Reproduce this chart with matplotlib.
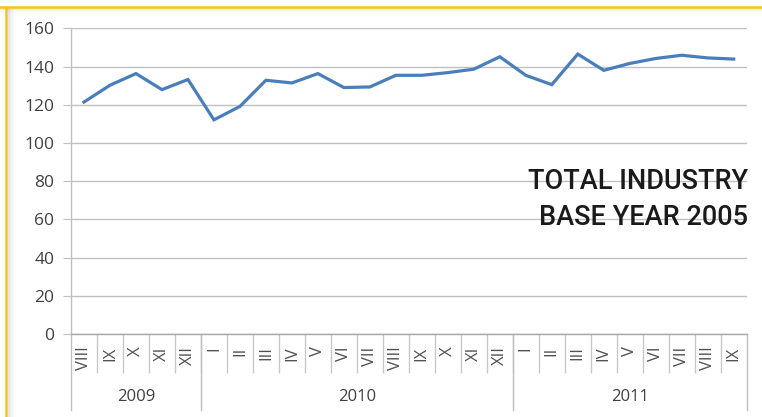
import matplotlib
matplotlib.use("Agg")
import matplotlib.pyplot as plt
from matplotlib.lines import Line2D
from matplotlib.patches import Rectangle

# ---- data ----
years = ["2009", "2010", "2011"]
months_2009 = ["VIII", "IX", "X", "XI", "XII"]
months_2010 = ["I", "II", "III", "IV", "V", "VI", "VII", "VIII", "IX", "X", "XI", "XII"]
months_2011 = ["I", "II", "III", "IV", "V", "VI", "VII", "VIII", "IX"]
month_labels = months_2009 + months_2010 + months_2011
index_values = [121.4, 130.2, 136.3, 127.9, 133.2,
                112.1, 119.1, 132.8, 131.4, 136.3, 129.0, 129.3, 135.4, 135.4, 136.8, 138.6, 145.1,
                135.4, 130.5, 146.5, 138.0, 141.6, 144.2, 145.9, 144.5, 143.9]
y_ticks = [0, 20, 40, 60, 80, 100, 120, 140, 160]
note_lines = ["TOTAL INDUSTRY", "BASE YEAR 2005"]

W, H = 762, 417
fig = plt.figure(figsize=(W / 100, H / 100), dpi=100)
fig.patch.set_facecolor("white")

# frame: yellow border top / left with soft grey shadow
for i, a in enumerate([0.10, 0.07, 0.04, 0.02]):
    fig.patches.append(Rectangle((0, 1 - (8 + i * 1.5) / H), 1, 1.5 / H, transform=fig.transFigure,
                                 color="black", alpha=a, lw=0, zorder=0))
    fig.patches.append(Rectangle(((8 + i * 1.5) / W, 0), 1.5 / W, 1 - 8 / H, transform=fig.transFigure,
                                 color="black", alpha=a, lw=0, zorder=0))
fig.add_artist(Line2D([0, 1], [1 - 6.5 / H, 1 - 6.5 / H], transform=fig.transFigure,
                      color="#f5c518", lw=1.8, zorder=1))
fig.add_artist(Line2D([6 / W, 6 / W], [0, 1 - 6.5 / H], transform=fig.transFigure,
                      color="#f5c518", lw=1.8, zorder=1))

left, right, top, bottom = 71 / W, 746.7 / W, 28.3 / H, 334 / H
ax = fig.add_axes([left, 1 - bottom, right - left, bottom - top])
ax.set_facecolor("none")

n = len(index_values)
x = list(range(n))
ax.plot(x, index_values, color="#4a7ebb", lw=2.3, solid_joinstyle="miter", zorder=3)

ax.set_xlim(-0.5, n - 0.5)
ax.set_ylim(0, 160)
ax.set_yticks(y_ticks)
ax.yaxis.grid(True, color="#c0c0c0", lw=1.0)
ax.set_axisbelow(True)
for s in ["top", "right"]:
    ax.spines[s].set_visible(False)
ax.spines["left"].set_color("#c0c0c0")
ax.spines["bottom"].set_color("#a8a8a8")
ax.spines["left"].set_linewidth(1.0)
ax.spines["bottom"].set_linewidth(1.0)
ax.tick_params(axis="y", length=6, color="#c0c0c0", labelsize=12.5, labelcolor="#404040", pad=6)
for lab in ax.get_yticklabels():
    lab.set_family("Open Sans")

# month labels
ax.set_xticks(x)
ax.set_xticklabels(month_labels, rotation=90, fontsize=12, color="#505050", family="Open Sans")
ax.tick_params(axis="x", which="major", length=0, pad=9)
ax.set_xticks([i - 0.5 for i in range(1, n)], minor=True)
ax.tick_params(axis="x", which="minor", length=28, color="#c8c8c8", width=1.0)

# year separators and labels
trans = ax.get_xaxis_transform()
h_px = (bottom - top) * H
y_low = -(410 - 334) / h_px
counts = [len(months_2009), len(months_2010), len(months_2011)]
edges = [-0.5]
for c in counts:
    edges.append(edges[-1] + c)
for e in edges:
    ax.add_line(Line2D([e, e], [0, y_low], transform=trans, color="#c0c0c0", lw=1.0, clip_on=False))
y_year = -(397 - 334) / h_px
for yr, a, b in zip(years, edges[:-1], edges[1:]):
    ax.text((a + b) / 2, y_year, yr, transform=trans, ha="center", va="center",
            fontsize=12, color="#404040", family="Open Sans")

# note text
for txt, ypx in zip(note_lines, [189, 225]):
    fig.text(748 / W, 1 - ypx / H, txt, ha="right", va="baseline", fontsize=19.5,
             color="#1a1a1a", family="Roboto", fontweight="medium")

fig.savefig("out.png", dpi=100)
